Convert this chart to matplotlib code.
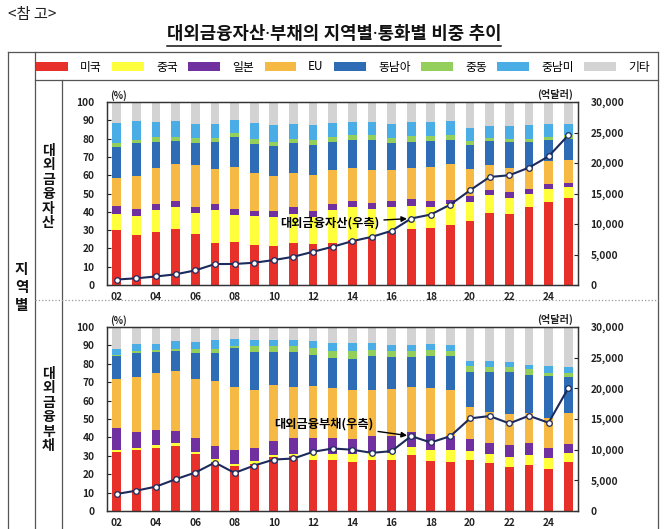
import matplotlib
matplotlib.use("Agg")
import matplotlib.pyplot as plt
import numpy as np
from matplotlib.lines import Line2D
from matplotlib.patches import Patch
from matplotlib.ticker import FuncFormatter, MultipleLocator

plt.rcParams['font.family'] = ['Noto Sans CJK KR', 'DejaVu Sans']

years = ['02', '03', '04', '05', '06', '07', '08', '09', '10', '11', '12', '13',
         '14', '15', '16', '17', '18', '19', '20', '21', '22', '23', '24', '25']
xtick_labels = ['02', '04', '06', '08', '10', '12', '14', '16', '18', '20', '22', '24']

regions = ['미국', '중국', '일본', 'EU', '동남아', '중동', '중남미', '기타']
colors = ['#E8302A', '#FFFF3C', '#7030A0', '#F5B944', '#2E6DB6', '#94CF5C', '#4AADE6', '#D3D3D3']

# shares (%) of external financial assets by region
asset_us    = [30.0, 27.3, 29.0, 30.5, 28.0, 23.0, 23.6, 21.8, 21.3, 22.7, 22.4, 23.0, 24.5, 26.4, 29.0, 30.4, 31.3, 32.7, 34.9, 39.5, 39.0, 42.4, 45.5, 47.8]
asset_cn    = [8.7, 10.3, 11.9, 12.0, 11.5, 18.0, 14.6, 15.8, 16.0, 16.3, 14.9, 18.0, 18.2, 15.4, 13.7, 12.6, 11.4, 11.8, 10.6, 9.5, 8.8, 7.2, 6.9, 5.5]
asset_jp    = [4.3, 3.7, 3.3, 3.5, 3.1, 3.0, 3.3, 2.6, 3.2, 3.7, 3.1, 3.0, 3.3, 3.1, 3.3, 3.9, 3.3, 2.2, 3.0, 2.8, 2.9, 2.8, 2.6, 2.7]
asset_eu    = [15.5, 18.2, 20.0, 20.0, 22.9, 19.3, 23.0, 20.8, 19.1, 18.3, 19.6, 18.7, 18.2, 18.1, 16.7, 17.3, 18.5, 19.3, 14.8, 13.7, 13.3, 11.8, 12.6, 12.5]
asset_sea   = [17.0, 18.1, 14.0, 12.5, 12.1, 14.7, 16.5, 16.0, 16.2, 16.6, 16.7, 15.5, 14.8, 16.5, 14.9, 14.0, 14.0, 13.5, 13.4, 13.0, 14.2, 14.0, 11.4, 11.5]
asset_me    = [2.3, 1.4, 2.7, 2.5, 2.9, 2.5, 2.3, 3.0, 2.4, 2.4, 2.3, 2.7, 2.8, 2.3, 2.8, 3.1, 2.8, 2.3, 2.0, 1.9, 1.8, 1.8, 1.9, 1.8]
asset_latam = [10.9, 10.6, 8.1, 8.8, 7.5, 7.5, 6.7, 8.7, 9.4, 8.0, 8.6, 7.6, 7.2, 7.2, 7.6, 7.7, 7.7, 7.7, 7.3, 6.5, 6.9, 7.3, 6.9, 6.0]
asset_other = [11.3, 10.4, 11.0, 10.2, 12.0, 12.0, 10.0, 11.3, 12.4, 12.0, 12.4, 11.5, 11.0, 11.0, 12.0, 11.0, 11.0, 10.5, 14.0, 13.1, 13.1, 12.7, 12.2, 12.2]

# shares (%) of external financial liabilities by region
liab_us    = [31.8, 33.0, 34.5, 35.5, 31.0, 26.7, 24.5, 25.8, 29.5, 30.0, 27.6, 27.6, 26.7, 27.8, 27.8, 30.2, 27.3, 26.9, 27.5, 26.0, 23.8, 25.0, 22.7, 26.9]
liab_cn    = [1.2, 1.0, 1.3, 1.2, 1.0, 1.3, 0.8, 1.2, 0.9, 1.0, 4.6, 3.4, 4.3, 3.7, 3.8, 4.8, 6.0, 6.4, 4.9, 5.0, 5.8, 5.5, 6.0, 4.6]
liab_jp    = [11.9, 9.0, 8.2, 6.9, 7.5, 7.3, 7.7, 7.0, 7.8, 8.8, 7.6, 8.8, 8.0, 9.5, 9.4, 7.7, 8.5, 7.2, 6.6, 6.0, 6.4, 6.5, 5.8, 4.9]
liab_eu    = [26.9, 30.0, 31.0, 32.4, 32.1, 35.4, 34.6, 31.8, 30.3, 27.8, 28.2, 27.2, 26.5, 24.8, 25.4, 24.9, 25.3, 25.5, 17.4, 17.0, 16.5, 16.3, 16.0, 16.9]
liab_sea   = [12.2, 13.0, 11.5, 10.7, 14.4, 15.3, 20.9, 20.6, 17.9, 18.6, 17.0, 16.0, 17.2, 18.7, 17.2, 15.9, 17.4, 18.4, 19.4, 21.5, 22.8, 20.7, 22.8, 19.4]
liab_me    = [1.0, 1.0, 0.8, 1.3, 2.0, 2.0, 1.3, 3.1, 3.1, 3.3, 3.5, 3.7, 4.0, 3.1, 3.1, 3.2, 3.1, 2.7, 3.2, 3.0, 2.9, 3.0, 1.7, 2.3]
liab_latam = [3.2, 4.0, 3.7, 4.5, 4.0, 4.7, 3.7, 3.5, 3.5, 3.5, 4.0, 4.6, 4.6, 3.7, 3.7, 3.7, 3.4, 2.9, 2.6, 3.1, 2.8, 2.6, 3.7, 3.4]
liab_other = [11.8, 9.0, 9.0, 7.5, 8.0, 7.3, 6.5, 7.0, 7.0, 7.0, 7.5, 8.7, 8.7, 8.7, 9.6, 9.6, 9.0, 10.0, 18.4, 18.4, 19.0, 20.4, 21.3, 21.6]

# totals (억달러, right axis)
asset_total = [900, 1100, 1400, 1750, 2400, 3430, 3450, 3650, 4090, 4630, 5450, 6270,
               7190, 7900, 8880, 10900, 11550, 13190, 15530, 17710, 17990, 19240, 21090, 24530]
liab_total = [2780, 3320, 3980, 5180, 6270, 7900, 6210, 7410, 8390, 8560, 9650, 10190,
              9990, 9480, 9760, 12210, 11170, 12210, 15100, 15480, 14280, 15530, 14390, 20000]

W, H = 670, 529
fig = plt.figure(figsize=(W / 100, H / 100), dpi=100)


def fx(px):
    return px / W


def fy(py):
    return 1 - py / H


def draw_panel(rect, shares, totals, label, text_xy, text_idx):
    ax = fig.add_axes(rect)
    x = np.arange(len(years))
    bottom = np.zeros(len(years))
    for vals, c in zip(shares, colors):
        v = np.array(vals)
        ax.bar(x, v, bottom=bottom, width=0.45, color=c, linewidth=0, zorder=2)
        bottom += v
    ax.set_xlim(-0.5, len(years) - 0.5)
    ax.set_ylim(0, 100)
    ax.yaxis.set_major_locator(MultipleLocator(10))
    ax.set_xticks([years.index(t) for t in xtick_labels])
    ax.set_xticklabels(xtick_labels)
    ax.tick_params(axis='x', length=0, pad=5, labelsize=7.3, colors='#222222')
    ax.tick_params(axis='y', direction='in', length=3, pad=9, labelsize=7.3, colors='#222222')
    for lab in ax.get_xticklabels() + ax.get_yticklabels():
        lab.set_fontweight('bold')
    for s in ax.spines.values():
        s.set_linewidth(0.9)
        s.set_color('#333333')

    ax2 = ax.twinx()
    ax2.set_ylim(0, 30000)
    ax2.yaxis.set_major_locator(MultipleLocator(5000))
    ax2.yaxis.set_major_formatter(FuncFormatter(lambda v, p: f"{int(v):,}"))
    ax2.tick_params(axis='y', direction='in', length=3, pad=9, labelsize=7.3, colors='#222222')
    for lab in ax2.get_yticklabels():
        lab.set_fontweight('bold')
    for s in ax2.spines.values():
        s.set_linewidth(0.9)
        s.set_color('#333333')
    ax2.plot(x, totals, color='#1C2A5C', lw=1.5, marker='o', markersize=4,
             markerfacecolor='white', markeredgecolor='#1C2A5C', markeredgewidth=0.9, zorder=5)
    ax2.annotate(label, xy=(text_idx, totals[text_idx]), xytext=text_xy,
                 textcoords='data', ha='right', va='center', fontsize=8.8, fontweight='bold',
                 arrowprops=dict(arrowstyle='-|>', color='black', lw=1.0,
                                 shrinkA=1, shrinkB=3, mutation_scale=8))
    ax.text(0.1, 100.8, '(%)', transform=ax.transData, ha='center', va='bottom',
            fontsize=7, fontweight='bold', color='#222222')
    ax.text(0.99, 1.01, '(억달러)', transform=ax.transAxes, ha='right', va='bottom',
            fontsize=7.3, fontweight='bold', color='#222222')
    return ax, ax2


ax_left, ax_right = fx(107), fx(578)
top_rect = [ax_left, fy(285), ax_right - ax_left, fy(102) - fy(285)]
bot_rect = [ax_left, fy(511), ax_right - ax_left, fy(327) - fy(511)]

i17 = years.index('17')
draw_panel(top_rect,
           [asset_us, asset_cn, asset_jp, asset_eu, asset_sea, asset_me, asset_latam, asset_other],
           asset_total, '대외금융자산(우측)', (13.4, 10200), i17)
draw_panel(bot_rect,
           [liab_us, liab_cn, liab_jp, liab_eu, liab_sea, liab_me, liab_latam, liab_other],
           liab_total, '대외금융부채(우측)', (13.1, 14200), i17)

# table frame
lc = '#555555'
lines = [
    ((8, 8), (52, 529), '-', lc),
    ((658, 658), (52, 529), '-', lc),
    ((8, 658), (52, 52), '-', lc),
    ((35, 35), (52, 529), '-', lc),
    ((35, 658), (80, 80), '-', lc),
    ((62, 62), (80, 529), '-', lc),
    ((35, 658), (300, 300), ':', '#999999'),
]
for xs, ys, ls, c in lines:
    fig.add_artist(Line2D([fx(v) for v in xs], [fy(v) for v in ys], color=c,
                          lw=0.9, ls=ls, transform=fig.transFigure))

# legend
handles = [Patch(facecolor=c, edgecolor='none', label=r) for r, c in zip(regions, colors)]
fig.legend(handles=handles, loc='center', bbox_to_anchor=(fx(343), fy(67)), ncol=8,
           frameon=False, fontsize=8.5, handlelength=2.7, handleheight=0.7,
           handletextpad=1.0, columnspacing=0.9, borderaxespad=0)

# headings
fig.text(fx(8), fy(14), '<참 고>', ha='left', va='center', fontsize=11, color='#222222')
title = fig.text(fx(334), fy(34), '대외금융자산·부채의 지역별·통화별 비중 추이', ha='center',
                 va='center', fontsize=12.8, fontweight='bold', color='#111111',
                 family=['Noto Sans', 'Noto Sans CJK KR'])
fig.canvas.draw()
bb = title.get_window_extent()
uy = fy(46)
fig.add_artist(Line2D([bb.x0 / W, bb.x1 / W], [uy, uy], color='#111111', lw=1.1,
                      transform=fig.transFigure))

fig.text(fx(21.5), fy(287), '\n'.join('지역별'), ha='center', va='center', fontsize=10.5,
         fontweight='bold', linespacing=1.15, color='#111111')
fig.text(fx(48.5), fy(187), '\n'.join('대외금융자산'), ha='center', va='center', fontsize=10,
         fontweight='bold', linespacing=1.05, color='#111111')
fig.text(fx(48.5), fy(410), '\n'.join('대외금융부채'), ha='center', va='center', fontsize=10,
         fontweight='bold', linespacing=1.05, color='#111111')

fig.savefig('out.png', dpi=100)
